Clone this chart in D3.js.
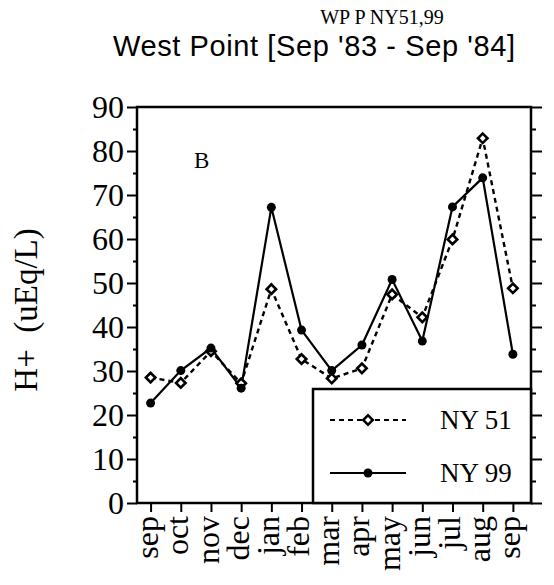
<!DOCTYPE html>
<html>
<head>
<meta charset="utf-8">
<script src="https://cdn.jsdelivr.net/npm/d3@7"></script>
<style>
  html, body { margin: 0; padding: 0; background: #fff; }
  svg { display: block; }
</style>
</head>
<body>
<svg id="chart" width="554" height="585"></svg>
<script>
// ---- data ----
const months = ["sep","oct","nov","dec","jan","feb","mar","apr","may","jun","jul","aug","sep"];
const ny51 = [28.5, 27.3, 34.5, 27.2, 48.6, 32.7, 28.3, 30.6, 47.4, 42.2, 59.9, 82.9, 48.8];
const ny99 = [22.7, 30.1, 35.2, 26.1, 67.2, 39.3, 30.1, 35.9, 50.8, 36.8, 67.3, 73.9, 33.8];
const yTicks = [0, 10, 20, 30, 40, 50, 60, 70, 80, 90];
const yMinorTicks = [5, 15, 25, 35, 45, 55, 65, 75, 85];
const seriesNames = ["NY 51", "NY 99"];

const svg = d3.select("#chart");
const serif = "'Liberation Serif', 'Times New Roman', serif";
const sans = "'Liberation Sans', Arial, sans-serif";

const L = 137, R = 531, T = 107, B = 503;
const x = d3.scaleLinear().domain([-0.45, 12.6]).range([L, R]);
const y = d3.scaleLinear().domain([0, 90]).range([B, T]);

// titles
svg.append("text").attr("x", 382).attr("y", 24).attr("text-anchor", "middle")
  .attr("font-family", serif).attr("font-size", 20).text("WP P NY51,99");
svg.append("text").attr("x", 113).attr("y", 56).attr("text-anchor", "start")
  .attr("font-family", sans).attr("font-size", 29).attr("letter-spacing", 0.6)
  .text("West Point [Sep '83 - Sep '84]");

// left axis
const yAxisL = d3.axisLeft(y).tickValues(yTicks).tickSize(10).tickPadding(3).tickFormat(d3.format("d"));
const gL = svg.append("g").attr("transform", `translate(${L},0)`).call(yAxisL);
gL.select(".domain").remove();
gL.selectAll(".tick line").attr("stroke", "#000").attr("stroke-width", 2);
gL.selectAll(".tick text").attr("font-family", serif).attr("font-size", 32).attr("fill", "#000");
const gLm = svg.append("g").attr("transform", `translate(${L},0)`)
  .call(d3.axisLeft(y).tickValues(yMinorTicks).tickSize(4).tickFormat(""));
gLm.select(".domain").remove();
gLm.selectAll(".tick line").attr("stroke", "#000").attr("stroke-width", 2);

// right axis ticks (outward)
const gR = svg.append("g").attr("transform", `translate(${R},0)`)
  .call(d3.axisRight(y).tickValues(yTicks).tickSize(11).tickFormat(""));
gR.select(".domain").remove();
gR.selectAll(".tick line").attr("stroke", "#000").attr("stroke-width", 2);
const gRm = svg.append("g").attr("transform", `translate(${R},0)`)
  .call(d3.axisRight(y).tickValues(yMinorTicks).tickSize(5).tickFormat(""));
gRm.select(".domain").remove();
gRm.selectAll(".tick line").attr("stroke", "#000").attr("stroke-width", 2);

// bottom axis
const gB = svg.append("g").attr("transform", `translate(0,${B})`)
  .call(d3.axisBottom(x).tickValues(d3.range(months.length)).tickSize(9).tickFormat(i => months[i]));
gB.select(".domain").remove();
gB.selectAll(".tick line").attr("stroke", "#000").attr("stroke-width", 2);
gB.selectAll(".tick text")
  .attr("font-family", serif).attr("font-size", 32).attr("fill", "#000")
  .attr("text-anchor", "end")
  .attr("transform", "rotate(-90)")
  .attr("x", -13).attr("y", 0).attr("dy", "0.22em");

// frame
svg.append("rect").attr("x", L).attr("y", T).attr("width", R - L).attr("height", B - T)
  .attr("fill", "none").attr("stroke", "#000").attr("stroke-width", 2.5);

// series
const line = d3.line().x((d, i) => x(i)).y(d => y(d));
svg.append("path").datum(ny51).attr("d", line).attr("fill", "none")
  .attr("stroke", "#000").attr("stroke-width", 2.4).attr("stroke-dasharray", "5,4");
svg.append("path").datum(ny99).attr("d", line).attr("fill", "none")
  .attr("stroke", "#000").attr("stroke-width", 2.2);

const diamond = d3.symbol().type(d3.symbolSquare).size(45);
svg.append("g").selectAll("path").data(ny51).join("path")
  .attr("d", diamond)
  .attr("transform", (d, i) => `translate(${x(i)},${y(d)}) rotate(45)`)
  .attr("fill", "#fff").attr("stroke", "#000").attr("stroke-width", 2.6);
svg.append("g").selectAll("circle").data(ny99).join("circle")
  .attr("cx", (d, i) => x(i)).attr("cy", d => y(d)).attr("r", 4.5).attr("fill", "#000");

// "B" label
svg.append("text").attr("x", 194).attr("y", 168).attr("font-family", serif)
  .attr("font-size", 23).text("B");

// y axis title
svg.append("text").attr("transform", "translate(37,310) rotate(-90)")
  .attr("text-anchor", "middle").attr("font-family", serif).attr("font-size", 33)
  .attr("xml:space", "preserve").text("H+  (uEq/L)");

// legend
const lg = svg.append("g");
lg.append("rect").attr("x", 313).attr("y", 389).attr("width", R - 313).attr("height", B - 389)
  .attr("fill", "#fff").attr("stroke", "#000").attr("stroke-width", 2.5);
const legendY = [420, 473];
seriesNames.forEach((name, k) => {
  const ly = legendY[k];
  lg.append("line").attr("x1", 330).attr("x2", 406).attr("y1", ly).attr("y2", ly)
    .attr("stroke", "#000").attr("stroke-width", 2.2)
    .attr("stroke-dasharray", k === 0 ? "5,4" : null);
  if (k === 0) {
    lg.append("path").attr("d", diamond).attr("transform", `translate(368,${ly}) rotate(45)`)
      .attr("fill", "#fff").attr("stroke", "#000").attr("stroke-width", 2.6);
  } else {
    lg.append("circle").attr("cx", 368).attr("cy", ly).attr("r", 4.5).attr("fill", "#000");
  }
  lg.append("text").attr("x", 440).attr("y", ly).attr("dy", "0.35em")
    .attr("font-family", serif).attr("font-size", 27).text(name);
});
</script>
</body>
</html>
